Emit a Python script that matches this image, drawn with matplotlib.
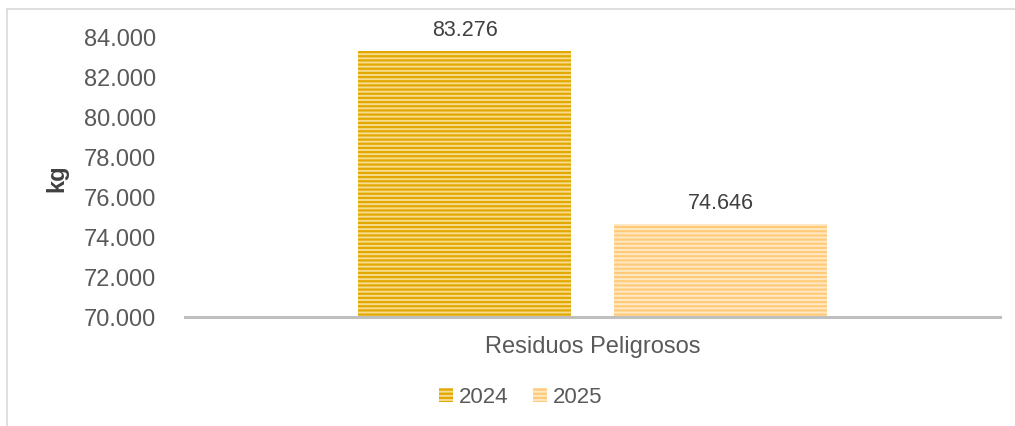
import matplotlib
matplotlib.use("Agg")
import matplotlib.pyplot as plt
from matplotlib.lines import Line2D
from matplotlib.patches import Patch

plt.rcParams['font.family'] = ['Liberation Sans', 'DejaVu Sans']
plt.rcParams['hatch.linewidth'] = 1.6

category = "Residuos Peligrosos"
series = ["2024", "2025"]
values = [83276, 74646]
face_colors = ["#F6DC8C", "#FFE9C4"]
hatch_colors = ["#E3A800", "#FFCB7A"]
yticks = [70000, 72000, 74000, 76000, 78000, 80000, 82000, 84000]

def fmt(v):
    return f"{v:,.0f}".replace(",", ".")

FS = 17

fig = plt.figure(figsize=(10.15, 4.27), dpi=100)
ax = fig.add_axes([185/1015, 109/427, 815/1015, 280/427])

offsets = [-0.157, 0.157]
width = 0.261
for off, v, fc, hc in zip(offsets, values, face_colors, hatch_colors):
    ax.bar(off, v, width=width, color=fc, edgecolor=hc, hatch='----', linewidth=0)
    ax.text(off, v + 550, fmt(v), ha='center', va='bottom', fontsize=15.5, color='#404040', clip_on=False)

ax.set_xlim(-0.5, 0.5)
ax.set_ylim(70000, 84000)
ax.set_yticks(yticks)
ax.set_yticklabels([fmt(t) for t in yticks], fontsize=FS, color='#595959')
ax.set_xticks([0])
ax.set_xticklabels([category], fontsize=FS, color='#595959')
ax.tick_params(axis='both', length=0)
ax.tick_params(axis='y', pad=21)
ax.tick_params(axis='x', pad=13)
for s in ['top', 'right', 'left']:
    ax.spines[s].set_visible(False)
ax.spines['bottom'].set_color('#BFBFBF')
ax.spines['bottom'].set_linewidth(2.2)
ax.set_ylabel('kg', fontsize=FS, fontweight='bold', color='#404040')
ax.yaxis.set_label_coords(-117/815, 0.5)

handles = [Patch(facecolor=fc, edgecolor=hc, hatch='----', linewidth=0) for fc, hc in zip(face_colors, hatch_colors)]
leg = fig.legend(handles, series, loc='center', bbox_to_anchor=(521/1015, 1 - 398/427), ncol=2,
                 frameon=False, fontsize=16, handlelength=0.6, handleheight=0.6,
                 handletextpad=0.3, columnspacing=1.1)
for t in leg.get_texts():
    t.set_color('#595959')

# chart border (partially visible)
fig.add_artist(Line2D([7/1015, 7/1015], [0, 1 - 10/427], color='#D9D9D9', linewidth=1.2, transform=fig.transFigure))
fig.add_artist(Line2D([7/1015, 1], [1 - 10/427, 1 - 10/427], color='#D9D9D9', linewidth=1.2, transform=fig.transFigure))

fig.savefig('out.png', dpi=100)
